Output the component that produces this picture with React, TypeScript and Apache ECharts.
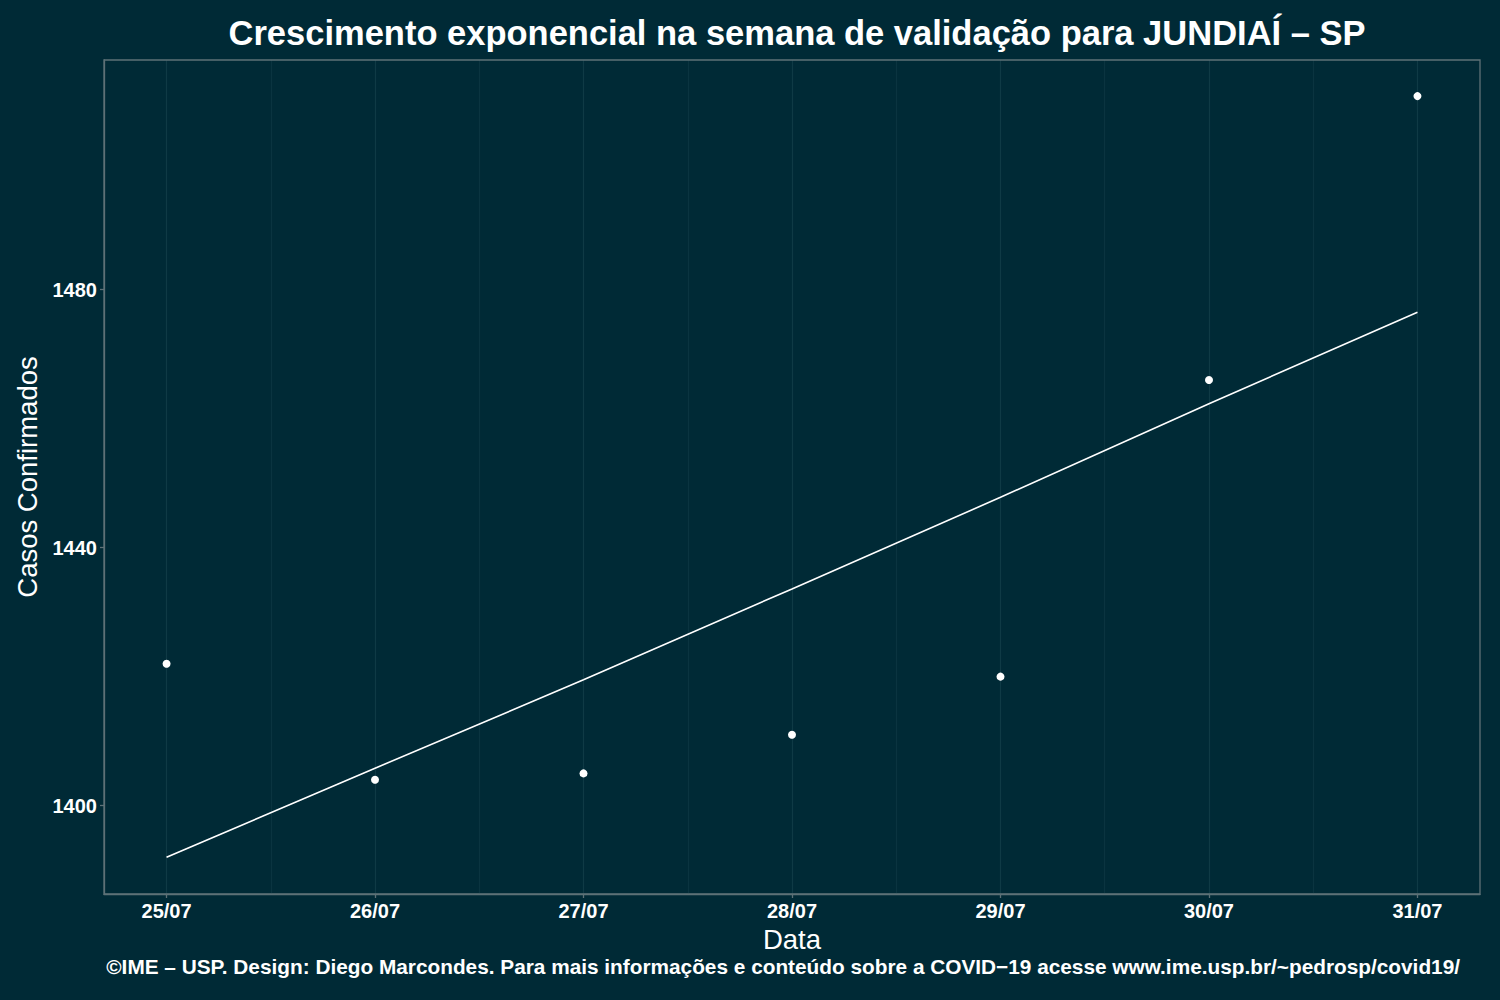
import React, { useEffect, useRef } from "react";
import * as echarts from "echarts";

const dates = ["25/07", "26/07", "27/07", "28/07", "29/07", "30/07", "31/07"];
const casos = [1422, 1404, 1405, 1411, 1420, 1466, 1510];
const ajuste = [1392.0, 1405.8, 1419.5, 1433.6, 1447.8, 1462.3, 1476.5];
const yTicks = [1400, 1440, 1480];

const title = "Crescimento exponencial na semana de validação para JUNDIAÍ – SP";
const caption =
  "©IME – USP. Design: Diego Marcondes. Para mais informações e conteúdo sobre a COVID−19 acesse www.ime.usp.br/~pedrosp/covid19/";

const BG = "#002a36";
const AXIS = "#5e7177";
const GRID_MAJOR = "#0f3a45";
const GRID_MINOR = "#0a3440";
const FONT = "'Liberation Sans', Arial, Helvetica, sans-serif";

export default function App() {
  const ref = useRef<HTMLDivElement>(null);
  useEffect(() => {
    if (!ref.current) return;
    const chart = echarts.init(ref.current, undefined, { renderer: "svg" });
    const idx = dates.map((_, i) => i);
    const halfDays = idx.slice(0, -1).map((i) => i + 0.5);
    chart.setOption({
      animation: false,
      backgroundColor: BG,
      textStyle: { fontFamily: FONT },
      title: {
        text: title,
        left: 792,
        top: 10,
        textAlign: "center",
        textStyle: { color: "#ffffff", fontSize: 34.5, fontWeight: "bold", fontFamily: FONT },
      },
      graphic: [
        {
          type: "text",
          right: 40,
          top: 956,
          style: {
            text: caption,
            fill: "#ffffff",
            font: `bold 20.8px ${FONT}`,
          },
        },
        {
          type: "rect",
          shape: { x: 104, y: 60, width: 1376, height: 834 },
          style: { fill: "none", stroke: AXIS, lineWidth: 1.3 },
          z: 10,
          silent: true,
        },
      ],
      grid: { left: 104, top: 60, right: 20, bottom: 106, containLabel: false },
      xAxis: {
        type: "value",
        min: -0.3,
        max: 6.3,
        name: "Data",
        nameLocation: "middle",
        nameGap: 30,
        nameTextStyle: { color: "#ffffff", fontSize: 27.5, fontFamily: FONT },
        axisLine: { show: true, onZero: false, lineStyle: { color: AXIS, width: 1.3 } },
        axisTick: { show: true, length: 4, customValues: idx, lineStyle: { color: AXIS, width: 1.3 } },
        axisLabel: {
          customValues: idx,
          color: "#ffffff",
          fontSize: 20,
          fontWeight: "bold",
          fontFamily: FONT,
          margin: 7,
          formatter: (v: number) => dates[Math.round(v)] ?? "",
        },
        splitLine: { show: true, lineStyle: { color: GRID_MAJOR, width: 1.2 } },
      },
      yAxis: {
        type: "value",
        min: 1386.3,
        max: 1515.6,
        name: "Casos Confirmados",
        nameLocation: "middle",
        nameGap: 56,
        nameRotate: 90,
        nameTextStyle: { color: "#ffffff", fontSize: 27.5, fontFamily: FONT },
        axisLine: { show: true, onZero: false, lineStyle: { color: AXIS, width: 1.3 } },
        axisTick: { show: true, length: 4, customValues: yTicks, lineStyle: { color: AXIS, width: 1.3 } },
        axisLabel: {
          customValues: yTicks,
          color: "#ffffff",
          fontSize: 20,
          fontWeight: "bold",
          fontFamily: FONT,
          margin: 7,
          formatter: (v: number) => String(Math.round(v)),
        },
        splitLine: { show: false },
      },
      series: [
        {
          type: "line",
          data: ajuste.map((v, i) => [i, v]),
          showSymbol: false,
          symbol: "none",
          lineStyle: { color: "#ffffff", width: 1.6 },
          z: 3,
          silent: true,
          markLine: {
            silent: true,
            symbol: "none",
            label: { show: false },
            lineStyle: { color: GRID_MINOR, width: 1.2, type: "solid" },
            data: halfDays.map((x) => ({ xAxis: x })),
            z: 1,
          },
        },
        {
          type: "scatter",
          data: casos.map((v, i) => [i, v]),
          symbol: "circle",
          symbolSize: 8,
          itemStyle: { color: "#ffffff", opacity: 1 },
          clip: false,
          z: 4,
        },
      ],
    });
    return () => chart.dispose();
  }, []);
  return (
    <div
      ref={ref}
      style={{ position: "fixed", left: 0, top: 0, width: 1500, height: 1000 }}
    />
  );
}
